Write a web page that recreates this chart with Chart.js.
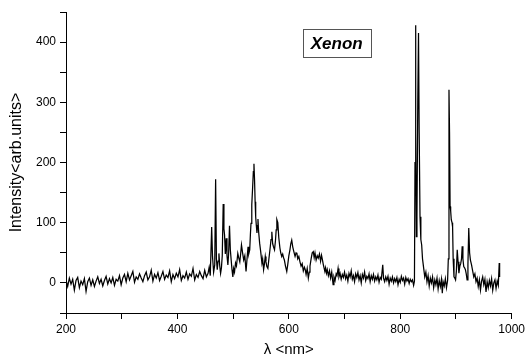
<!DOCTYPE html>
<html>
<head>
<meta charset="utf-8">
<script src="https://cdn.jsdelivr.net/npm/chart.js@4/dist/chart.umd.min.js"></script>
<style>
  html, body { margin: 0; padding: 0; background: #fff; }
  #wrap { width: 528px; height: 363px; }
</style>
</head>
<body>
<div id="wrap"><canvas id="spectrum"></canvas></div>
<script>
'use strict';

// wavelength (nm) and intensity
var wavelengthNm = [
  200,203,206,209,212,215,218,221,224,227,230,233,
  236,239,242,245,248,251,254,257,260,263,266,269,
  272,275,278,281,284,287,290,293,296,299,302,305,
  308,311,314,317,320,323,326,329,332,335,338,341,
  344,347,350,353,356,359,362,365,368,371,374,377,
  380,383,386,389,392,395,398,401,404,407,410,413,
  416,419,422,425,428,431,434,437,440,443,446,449,
  452,455,457,459,461.5,463,465,467,468.6,470,471.5,473,
  474.5,476,477.5,479,480.5,482.2,483.5,484.6,486,487.6,489,490.6,
  492,493.5,495,496.5,498,499.5,501,502.5,504.3,506,508.4,510,
  512,513.5,515,517,519,521,523.2,525,526.8,528,529.8,531,
  532.1,533.5,535.1,536.3,537.4,538.5,539.5,540.5,541.7,542.8,543.7,544.6,
  545.8,547.6,549.5,551.7,553,554.7,556,557.7,559,560.6,562.4,564,
  565.5,566.7,568,569.5,571,572.5,574.3,576,577.3,578.5,580.2,582,
  584,585.5,587.3,589,590.5,592,594,596.3,598,600,602,603.5,
  605.2,607,609,611.2,613,614.5,616,618,620,622,624,626,
  628,629.5,631,633,635,636.7,638,640,642,643.9,645.5,647,
  649,651,652.8,655,657,658.7,660,662,664.7,666,667.6,669,
  671,673,675,677,679.5,681,683,685,686.5,688.4,690,692,
  694,696,698,700,702,704,706,708,710,712,714,716,
  718,720,722,724,726,728,730,732,734,736,738,740,
  742,744,746,748,750,752,754,756,758,760,762,764,
  766,768.6,770,772,774,776,778,780,782,784,786,788,
  790,792,794,796,798,800,802,804,806,808,810,812,
  814,816,818,820,822,824,825.5,826.5,827.3,828.2,829,830,
  831.5,832.8,834,835.5,837,838.5,840,842,844,846,848,850,
  852,854,856,858,860,862,864,866,868,870,872,874,
  875.5,877,879,881,883,885,886.3,887.5,888.5,889.5,890.5,891.6,
  893,894,895,896.5,898,899.3,900.8,902.3,903.8,905.3,907,908.5,
  910,911.2,912.5,914,915.5,917,918.5,920,921.5,923,924.5,926,
  928,930,932,934,936,938,940,942,944,946,948,950,
  952,954,956,958,960,962,964,966,968,970,972,974,
  976,977.7,978.4
];
var intensity = [
  5,-6,8,-2,6,-12,4,9,-8,3,-3,7,
  -14,2,8,-4,5,-6,3,10,-1,6,-5,4,
  11,-2,7,0,9,-4,6,3,12,-3,8,14,
  2,16,5,12,19,1,10,6,15,8,2,12,
  18,5,10,21,3,14,8,17,4,11,19,6,
  13,9,20,2,14,7,16,10,22,4,12,8,
  18,6,15,11,24,5,14,9,19,12,7,21,
  10,16,26,12,93,44,18,30,172,40,22,36,
  49,28,16,25,45,131,90,80,48,74,45,30,
  50,95,55,38,22,10,24,18,33,28,49,42,
  35,48,63,50,38,45,19,40,60,48,55,80,
  99,130,160,185,198,170,135,110,95,83,95,106,
  85,66,52,33,40,22,30,44,35,27,24,38,
  50,60,72,85,65,60,55,70,88,105,100,75,
  58,50,44,48,42,38,28,19,30,45,55,65,
  71,60,52,44,50,49,40,44,35,28,32,20,
  26,22,14,24,8,18,28,40,50,52,42,50,
  38,45,41,48,36,46,40,30,19,25,16,22,
  12,20,8,18,-3,10,4,15,12,24,10,16,
  6,14,9,18,7,13,3,16,10,20,6,12,
  2,15,9,17,5,12,0,14,8,18,4,11,
  7,15,2,12,6,14,3,10,5,13,1,9,
  6,30,8,2,10,4,11,-2,8,3,10,0,
  7,2,9,-3,6,1,11,4,8,-2,9,3,
  7,-1,6,2,5,-4,3,200,428,250,77,110,
  300,415,250,110,72,63,40,25,10,18,2,12,
  -5,8,0,10,-8,5,-3,8,-10,4,-6,6,
  -17,2,-5,7,-8,4,40,321,250,127,120,105,
  100,93,40,10,8,5,20,55,35,16,28,32,
  40,61,40,27,25,22,15,5,30,91,50,38,
  30,20,10,15,2,8,-6,5,-12,3,10,-3,
  6,-15,2,-8,4,-5,7,-12,0,5,-9,3,
  -4,33,10
];

var xLabels = [200, 400, 600, 800, 1000];
var yLabels = [0, 100, 200, 300, 400];
var gasName = 'Xenon';

var FONT = 'Arial, "Liberation Sans", sans-serif';

let Spectrum = function(){

    // label box in the upper part of the plot
    var _labelBox = {
        id : 'labelBox',
        afterDraw : function(chart){
            var ctx = chart.ctx;
            var xs = chart.scales.x, ys = chart.scales.y;
            var l = xs.getPixelForValue(625), r = xs.getPixelForValue(747);
            var t = ys.getPixelForValue(421), b = ys.getPixelForValue(375);
            ctx.save();
            ctx.strokeStyle = '#555';
            ctx.lineWidth = 1;
            ctx.strokeRect(Math.round(l)+0.5, Math.round(t)+0.5, Math.round(r-l), Math.round(b-t));
            ctx.fillStyle = '#000';
            ctx.font = 'italic bold 17px ' + FONT;
            ctx.textAlign = 'center';
            ctx.textBaseline = 'middle';
            ctx.fillText(gasName, (l+r)/2, (t+b)/2 + 1);
            ctx.restore();
        }
    };

    var _draw = function(){
        var ctx = document.getElementById('spectrum').getContext('2d');
        var points = wavelengthNm.map(function(w, i){ return {x : w, y : intensity[i]}; });

        var config = {
            type : 'line',
            data : {
                datasets : [{
                    data : points,
                    borderColor : '#000',
                    borderWidth : 1.25,
                    pointRadius : 0,
                    tension : 0,
                    fill : false,
                }]
            },
            options : {
                responsive : true,
                maintainAspectRatio : false,
                animation : false,
                layout : { padding : { top : 12, right : 13, left : 0, bottom : 0 } },
                plugins : { legend : { display : false }, tooltip : { enabled : false } },
                scales : {
                    x : {
                        type : 'linear',
                        min : 200, max : 1000,
                        afterFit : function(s){ s.height = 50; },
                        grid : { drawOnChartArea : false, tickLength : 6, color : '#000', tickColor : '#000' },
                        border : { display : true, color : '#000', width : 1 },
                        ticks : {
                            stepSize : 100, autoSkip : false, maxRotation : 0, padding : 3,
                            color : '#000', font : { family : FONT, size : 12 },
                            callback : function(v){ return xLabels.indexOf(v) >= 0 ? String(v) : ''; }
                        },
                        title : {
                            display : true, text : 'λ <nm>', color : '#000',
                            font : { family : FONT, size : 15 }, padding : { top : 0, bottom : 4 }
                        }
                    },
                    y : {
                        min : -50, max : 450,
                        afterFit : function(s){ s.width = 66; },
                        grid : { drawOnChartArea : false, tickLength : 6, color : '#000', tickColor : '#000' },
                        border : { display : true, color : '#000', width : 1 },
                        ticks : {
                            stepSize : 50, autoSkip : false, padding : 4,
                            color : '#000', font : { family : FONT, size : 12 },
                            callback : function(v){ return yLabels.indexOf(v) >= 0 ? String(v) : ''; }
                        },
                        title : {
                            display : true, text : 'Intensity<arb.units>', color : '#000',
                            font : { family : FONT, size : 16 }, padding : { top : 7, bottom : 0 }
                        }
                    }
                }
            },
            plugins : [_labelBox]
        };

        window.spectrum = new Chart(ctx, config);
    };

    return {
        init : function(){
            _draw();
        }
    }

}();

document.addEventListener('DOMContentLoaded', function(){
    Spectrum.init();
});
</script>
</body>
</html>
